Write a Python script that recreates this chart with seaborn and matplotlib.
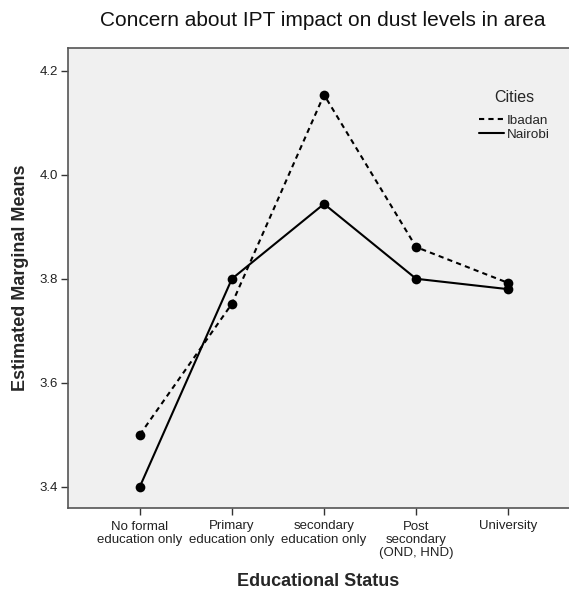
import matplotlib
matplotlib.use("Agg")
import matplotlib.pyplot as plt
from matplotlib.lines import Line2D
import seaborn as sns
import pandas as pd

categories = ["No formal\neducation only", "Primary\neducation only", "secondary\neducation only",
              "Post\nsecondary\n(OND, HND)", "University"]
ibadan = [3.50, 3.752, 4.154, 3.861, 3.792]
nairobi = [3.40, 3.80, 3.944, 3.80, 3.780]
yticks = [3.4, 3.6, 3.8, 4.0, 4.2]

df = pd.DataFrame({
    "pos": list(range(len(categories))) * 2,
    "mean": ibadan + nairobi,
    "City": ["Ibadan"] * len(categories) + ["Nairobi"] * len(categories),
})

sns.set_style("white")
plt.rcParams["font.family"] = ["Liberation Sans", "DejaVu Sans"]

fig = plt.figure(figsize=(5.69, 5.91), dpi=100)
ax = fig.add_axes([68 / 569, 83 / 591, 501 / 569, 460 / 591])
ax.set_facecolor("#f0f0f0")

sns.lineplot(data=df, x="pos", y="mean", style="City", color="black",
             dashes={"Ibadan": (2.5, 2), "Nairobi": ""},
             markers={"Ibadan": "o", "Nairobi": "o"},
             markersize=7, markeredgewidth=0, linewidth=1.5, legend=False, ax=ax)

ax.set_xlim(-0.78, 4.66)
ax.set_ylim(3.359, 4.244)
ax.set_xticks(range(len(categories)))
ax.set_xticklabels(categories, fontsize=9.5, color="#222222", linespacing=1.15)
ax.set_yticks(yticks)
ax.set_yticklabels([f"{v:.1f}" for v in yticks], fontsize=9.5, color="#222222")
ax.tick_params(axis="both", direction="out", length=5, width=1, color="#333333", pad=2,
               bottom=True, left=True)
ax.tick_params(axis="x", pad=4)

for s in ax.spines.values():
    s.set_color("#555555")
    s.set_linewidth(1.2)
ax.spines["right"].set_visible(False)

ax.set_xlabel("Educational Status", fontsize=13, fontweight="bold", labelpad=10)
ax.set_ylabel("Estimated Marginal Means", fontsize=13, fontweight="bold", labelpad=8)
fig.text(323 / 569, 1 - 20 / 591, "Concern about IPT impact on dust levels in area",
         ha="center", va="center", fontsize=15, color="#111111")

handles = [Line2D([], [], color="black", lw=1.5, dashes=(2.5, 2)),
           Line2D([], [], color="black", lw=1.5)]
leg = ax.legend(handles, ["Ibadan", "Nairobi"], title="Cities", loc="upper right",
                bbox_to_anchor=(0.985, 0.935), frameon=False, fontsize=9.7,
                title_fontsize=11.5, handlelength=1.9, handletextpad=0.15,
                labelspacing=0.1)
leg._legend_box.align = "center"
leg._legend_box.sep = 7

fig.savefig("out.png", dpi=100)
